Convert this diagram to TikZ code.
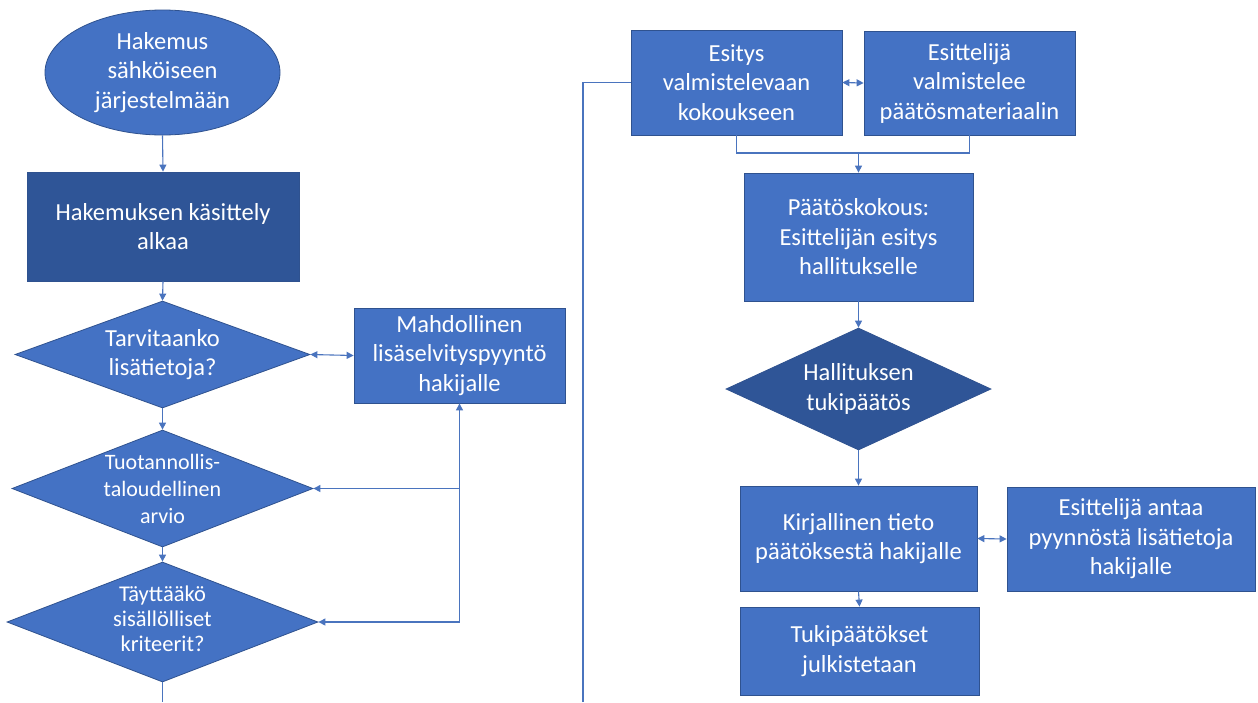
\documentclass[tikz,border=0pt]{standalone}
\usepackage{fontspec}
\setmainfont{Carlito}
\usetikzlibrary{shapes.geometric,arrows.meta}
\definecolor{boxblue}{HTML}{4472C4}
\definecolor{darkblue}{HTML}{2F5597}
\definecolor{edgeblue}{HTML}{2F528F}
\definecolor{lineblue}{HTML}{4A74BE}
\tikzset{
  base/.style={draw=edgeblue, line width=0.8pt, text=white, align=center, inner sep=0pt,
    font=\fontsize{24.5pt}{29.5pt}\selectfont},
  box/.style={base, rectangle, fill=boxblue},
  darkbox/.style={base, rectangle, fill=darkblue},
  oval/.style={base, ellipse, fill=boxblue},
  dia/.style={base, diamond, fill=boxblue},
  darkdia/.style={base, diamond, fill=darkblue},
  diatext/.style={text=white, align=center, inner sep=0pt, font=\fontsize{24.5pt}{29.5pt}\selectfont},
  conn/.style={draw=lineblue, line width=1.1pt},
  arr/.style={conn, -{Triangle[length=7pt,width=7pt]}},
  darr/.style={conn, {Triangle[length=7pt,width=7pt]}-{Triangle[length=7pt,width=7pt]}},
  smallfont/.style={font=\fontsize{22pt}{27pt}\selectfont},
  smallerfont/.style={font=\fontsize{22.5pt}{25pt}\selectfont}
}
\begin{document}
\begin{tikzpicture}[x=1pt,y=-1pt]
\fill[white] (0,0) rectangle (1258,702);
\useasboundingbox (0,0) rectangle (1258,702);

% left column
\node[oval, minimum width=235pt, minimum height=125pt] (e1) at (162.5,72.5) {Hakemus\\sähköiseen\\järjestelmään};
\node[darkbox, minimum width=272pt, minimum height=109pt] (r1) at (163,226.5) {Hakemuksen käsittely\\alkaa};
\node[dia, minimum width=295pt, minimum height=107pt] (d1) at (162.5,354.5) {};
\node[diatext] (t1) at (d1.center) {Tarvitaanko\\lisätietoja?};
\node[box, minimum width=211pt, minimum height=95pt] (m1) at (459.5,355.5) {Mahdollinen\\lisäselvityspyyntö\\hakijalle};
\node[dia, minimum width=301pt, minimum height=117pt] (d2) at (162.5,488.5) {};
\node[diatext, smallfont] (t2) at (d2.center) {Tuotannollis-\\taloudellinen\\arvio};
\node[dia, minimum width=311pt, minimum height=120pt] (d3) at (162.5,622) {};
\node[diatext, smallerfont] (t3) at ([yshift=3pt]d3.center) {Täyttääkö\\sisällölliset\\kriteerit?};

% right column
\node[box, minimum width=211pt, minimum height=105pt] (r2) at (736.5,82.5) {Esitys\\valmistelevaan\\kokoukseen};
\node[box, minimum width=211pt, minimum height=104pt] (r3) at (969.5,83) {Esittelijä\\valmistelee\\päätösmateriaalin};
\node[box, minimum width=229pt, minimum height=128pt] (r4) at (858.5,237) {Päätöskokous:\\Esittelijän esitys\\hallitukselle};
\node[darkdia, minimum width=265pt, minimum height=122pt] (d4) at (858.5,389) {};
\node[diatext] (t4) at (d4.center) {Hallituksen\\tukipäätös};
\node[box, minimum width=237pt, minimum height=105pt] (r5) at (858.5,538.5) {Kirjallinen tieto\\päätöksestä hakijalle};
\node[box, minimum width=248pt, minimum height=104pt] (r6) at (1131,539) {Esittelijä antaa\\pyynnöstä lisätietoja\\hakijalle};
\node[box, minimum width=239pt, minimum height=88pt] (r7) at (859.5,651) {Tukipäätökset\\julkistetaan};

% free ends
\coordinate (lb) at (162.5,702);
\coordinate (vb) at (583,702);
\coordinate (jn) at (858.5,153);

% left connectors
\draw[arr] (e1.south) -- (r1.north);
\draw[arr] (r1.south) -- (d1.north);
\draw[darr] (d1.east) -- (m1.west);
\draw[arr] (d1.south) -- (d2.north);
\draw[arr] (d2.south) -- (d3.north);
\draw[conn] (d3.south) -- (lb);
\draw[arr] (m1.south |- d3.east) -- (m1.south);
\draw[arr] (m1.south |- d3.east) -- (d3.east);
\draw[arr] (m1.south |- d2.east) -- (d2.east);

% right connectors
\draw[conn] (vb) |- (r2.west);
\draw[darr] (r2.east) -- (r3.west);
\draw[conn] (r2.south) |- (jn) -| (r3.south);
\draw[arr] (jn) -- (r4.north);
\draw[arr] (r4.south) -- (d4.north);
\draw[arr] (d4.south) -- (r5.north);
\draw[darr] (r5.east) -- (r6.west);
\draw[arr] (r5.south) -- (r7.north);
\end{tikzpicture}
\end{document}
